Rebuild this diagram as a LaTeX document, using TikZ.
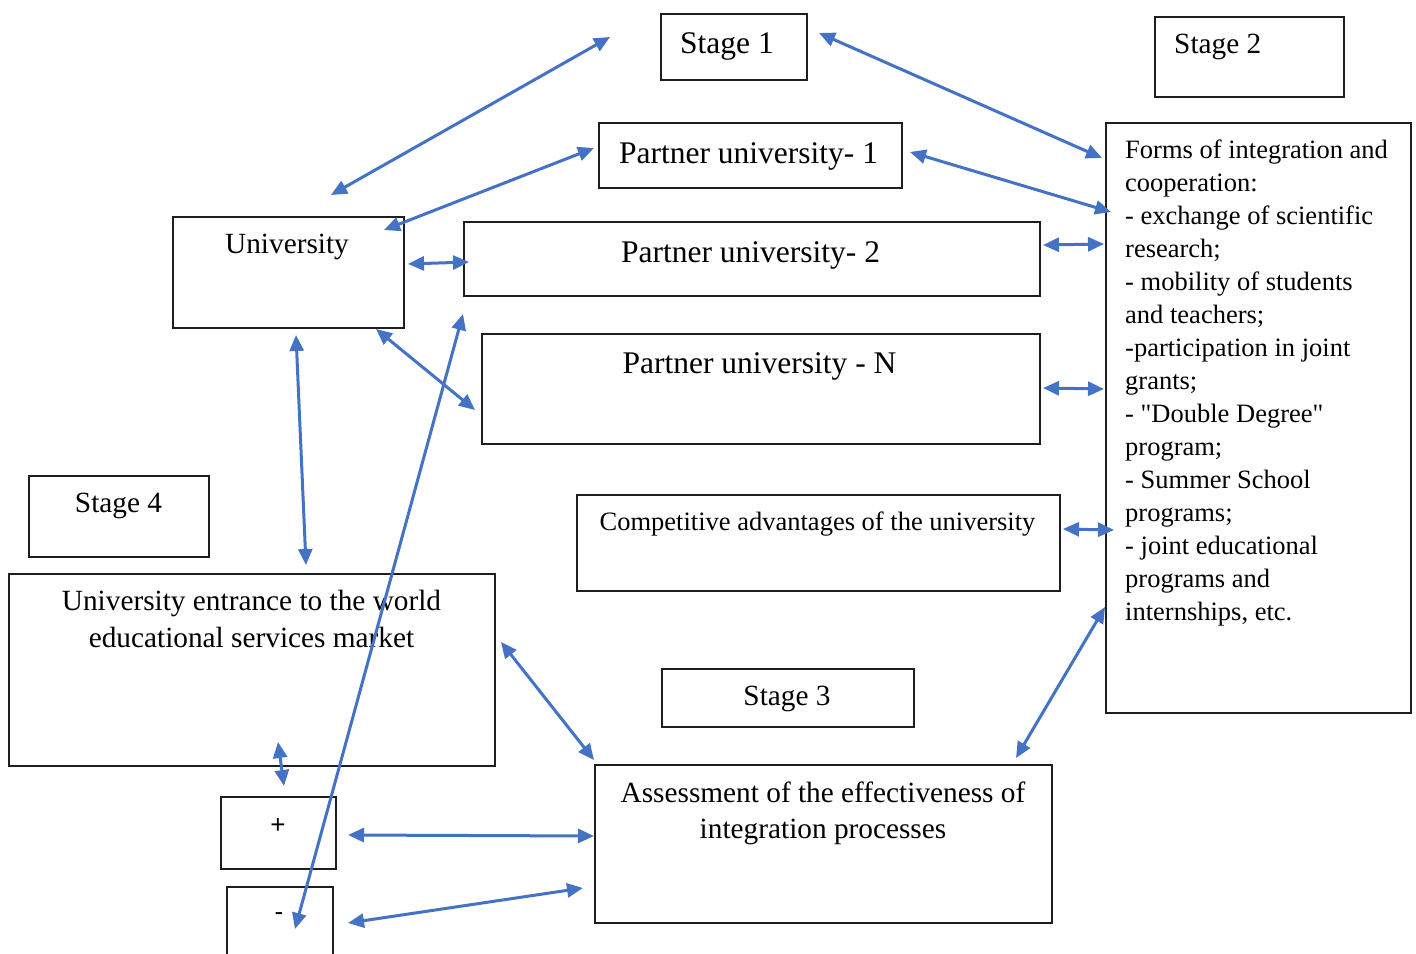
\documentclass[tikz,border=0pt]{standalone}
\usepackage{fontspec}
\setmainfont{Liberation Serif}
\newfontfamily\arialf{Liberation Sans}
\usetikzlibrary{arrows.meta}
\definecolor{arrowblue}{RGB}{68,114,196}
\definecolor{boxline}{RGB}{30,30,30}
\begin{document}
\begin{tikzpicture}[x=1pt,y=-1pt,
  box/.style={draw=boxline, line width=1.5pt, inner sep=0pt, anchor=north west},
  arr/.style={draw=arrowblue, line width=3pt,
    {Triangle[length=16pt,width=14pt]}-{Triangle[length=16pt,width=14pt]}},
  big/.style={inner sep=0pt, anchor=base, font=\fontsize{31.5}{38}\selectfont},
  mid/.style={inner sep=0pt, anchor=base, font=\fontsize{29.3}{36.5}\selectfont},
  small/.style={inner sep=0pt, anchor=base, font=\fontsize{26.5}{33}\selectfont},
  sign/.style={inner sep=0pt, anchor=center, font=\arialf\fontsize{26}{30}\selectfont}]
\useasboundingbox (0,0) rectangle (1416,953);
\fill[white] (0,0) rectangle (1416,953);

% boxes
\node[box, minimum width=146pt, minimum height=66pt] (s1) at (660,13) {};
\node[box, minimum width=189pt, minimum height=80pt] (s2) at (1154,16) {};
\node[box, minimum width=303pt, minimum height=65pt] (p1) at (598,122) {};
\node[box, minimum width=231pt, minimum height=111pt] (univ) at (172,216) {};
\node[box, minimum width=576pt, minimum height=74pt] (p2) at (463,221) {};
\node[box, minimum width=558pt, minimum height=110pt] (pn) at (481,333) {};
\node[box, minimum width=305pt, minimum height=590pt] (forms) at (1105,122) {};
\node[box, minimum width=180pt, minimum height=81pt] (s4) at (28,475) {};
\node[box, minimum width=486pt, minimum height=192pt] (entr) at (8,573) {};
\node[box, minimum width=483pt, minimum height=96pt] (comp) at (576,494) {};
\node[box, minimum width=252pt, minimum height=58pt] (s3) at (661,668) {};
\node[box, minimum width=457pt, minimum height=158pt] (assess) at (594,764) {};
\node[box, minimum width=115pt, minimum height=72pt] (plus) at (220,796) {};
\node[box, minimum width=106pt, minimum height=90pt] (minus) at (226,886) {};

% texts
\node[big] (s1t) at (727,53) {Stage 1};
\node[mid, anchor=base west] (s2t) at (1174,53) {Stage 2};
\node[big] (p1t) at (748.5,163) {Partner university- 1};
\node[mid] (univt) at (287,253) {University};
\node[big] (p2t) at (750.5,262) {Partner university- 2};
\node[big] (pnt) at (759.5,373) {Partner university - N};
\foreach \t [count=\i from 0] in {Forms of integration and, cooperation:,
  - exchange of scientific, research;, - mobility of students, and teachers;,
  -participation in joint, grants;, - \textquotedbl Double Degree\textquotedbl, program;,
  - Summer School, programs;, - joint educational, programs and,
  {internships, etc.}}
  \node[small, anchor=base west] (f\i) at (1125,{158+33*\i}) {\t};
\node[mid] (s4t) at (118.5,512) {Stage 4};
\node[mid] (entrt1) at (251.5,610) {University entrance to the world};
\node[mid] (entrt2) at (251.5,647) {educational services market};
\node[small] (compt) at (817.5,530) {Competitive advantages of the university};
\node[mid] (s3t) at (787,705) {Stage 3};
\node[mid] (assesst1) at (823,802) {Assessment of the effectiveness of};
\node[mid] (assesst2) at (823,838) {integration processes};
\node[sign] (plust) at (278,826) {+};
\node[sign] (minust) at (279,917) {-};

% connector end points
\coordinate (u-top) at (331,195);
\coordinate (s1-left) at (610,37);
\coordinate (u-ne) at (384,230);
\coordinate (p1-w) at (594,148);
\coordinate (u-e) at (408,264);
\coordinate (p2-w) at (469,262);
\coordinate (u-se) at (376,329);
\coordinate (pn-w) at (475,410);
\coordinate (u-s) at (296,335);
\coordinate (entr-n) at (306,565);
\coordinate (p2-sw) at (463,314);
\coordinate (minus-in) at (295,929);
\coordinate (s1-e) at (819,33);
\coordinate (forms-nw) at (1102,158);
\coordinate (p1-e) at (910,152);
\coordinate (forms-w1) at (1111,212);
\coordinate (p2-e) at (1043,245);
\coordinate (forms-w2) at (1104,244);
\coordinate (pn-e) at (1043,388);
\coordinate (forms-w3) at (1104,389);
\coordinate (comp-e) at (1063,529);
\coordinate (forms-w4) at (1114,530);
\coordinate (forms-w5) at (1105,607);
\coordinate (assess-ne) at (1016,758);
\coordinate (entr-e) at (501,642);
\coordinate (assess-nw) at (594,760);
\coordinate (entr-s) at (278,742);
\coordinate (plus-n) at (284,786);
\coordinate (plus-e) at (348,835);
\coordinate (assess-w1) at (594,836);
\coordinate (minus-e) at (348,923);
\coordinate (assess-w2) at (583,888);

% connectors
\draw[arr] (u-top) -- (s1-left);
\draw[arr] (u-ne) -- (p1-w);
\draw[arr] (u-e) -- (p2-w);
\draw[arr] (u-se) -- (pn-w);
\draw[arr] (u-s) -- (entr-n);
\draw[arr] (p2-sw) -- (minus-in);
\draw[arr] (s1-e) -- (forms-nw);
\draw[arr] (p1-e) -- (forms-w1);
\draw[arr] (p2-e) -- (forms-w2);
\draw[arr] (pn-e) -- (forms-w3);
\draw[arr] (comp-e) -- (forms-w4);
\draw[arr] (forms-w5) -- (assess-ne);
\draw[arr] (entr-e) -- (assess-nw);
\draw[arr] (entr-s) -- (plus-n);
\draw[arr] (plus-e) -- (assess-w1);
\draw[arr] (minus-e) -- (assess-w2);
\end{tikzpicture}
\end{document}
